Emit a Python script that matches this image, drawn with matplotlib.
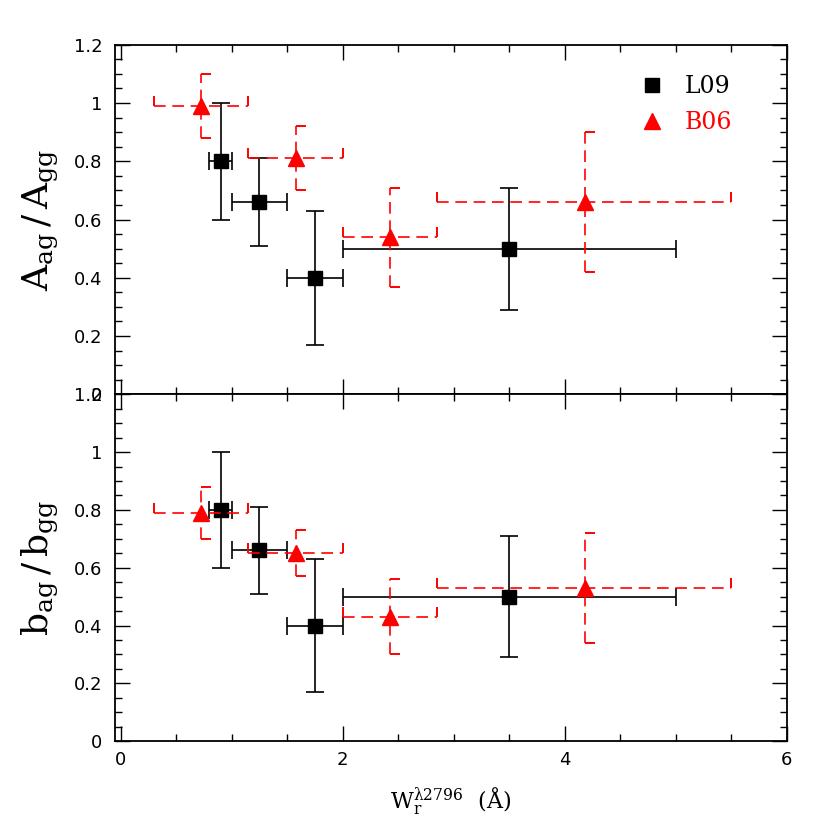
import numpy as np
import matplotlib
matplotlib.use("Agg")
import matplotlib.pyplot as plt
from matplotlib.path import Path
from matplotlib.ticker import MultipleLocator

# ---- data ----
# L09 (black squares)
l09_x = [0.9, 1.25, 1.75, 3.5]
l09_xlo = [0.8, 1.0, 1.5, 2.0]
l09_xhi = [1.0, 1.5, 2.0, 5.0]
l09_A = [0.80, 0.66, 0.40, 0.50]
l09_A_err = [0.20, 0.15, 0.23, 0.21]
l09_b = [0.80, 0.66, 0.40, 0.50]
l09_b_err = [0.20, 0.15, 0.23, 0.21]

# B06 (red triangles)
b06_x = [0.72, 1.58, 2.43, 4.18]
b06_xlo = [0.30, 1.15, 2.0, 2.85]
b06_xhi = [1.15, 2.0, 2.85, 5.50]
b06_A = [0.99, 0.81, 0.54, 0.66]
b06_A_err = [0.11, 0.11, 0.17, 0.24]
b06_b = [0.79, 0.65, 0.43, 0.53]
b06_b_err = [0.09, 0.08, 0.13, 0.19]

ylabels = [r'$\mathrm{A_{ag}\,/\,A_{gg}}$', r'$\mathrm{b_{ag}\,/\,b_{gg}}$']
xlabel = r'$\mathrm{W_r^{\lambda2796}}$  $\mathrm{(\AA)}$'
xticks = [0, 2, 4, 6]
yticks = [0, 0.2, 0.4, 0.6, 0.8, 1.0, 1.2]
ytick_labels = ['0', '0.2', '0.4', '0.6', '0.8', '1', '1.2']

plt.rcParams['mathtext.fontset'] = 'dejavuserif'
plt.rcParams['font.family'] = ['DejaVu Serif']

fig = plt.figure(figsize=(8.3, 8.3), dpi=100)
left, right, top, mid, bot = 0.1386, 0.948, 0.946, 0.525, 0.107
ax1 = fig.add_axes([left, mid, right - left, top - mid])
ax2 = fig.add_axes([left, bot, right - left, mid - bot])

dash = (0, (7, 4))
half_h = Path([(0, 0), (1, 0)])   # horizontal half cap (to the right)
half_v = Path([(0, 0), (0, 1)])   # vertical half cap (upwards)


def draw(ax, ly, lerr, by, berr):
    lx = np.array(l09_x)
    xerr_l = [lx - np.array(l09_xlo), np.array(l09_xhi) - lx]
    ax.errorbar(lx, ly, yerr=lerr, xerr=xerr_l, fmt='s', color='black',
                ms=9.5, elinewidth=1.2, capsize=6.8, capthick=1.2, zorder=3)
    bx = np.array(b06_x)
    by = np.array(by)
    berr = np.array(berr)
    xerr_b = [bx - np.array(b06_xlo), np.array(b06_xhi) - bx]
    eb = ax.errorbar(bx, by, yerr=berr, xerr=xerr_b, fmt='^', color='red',
                     ms=11, elinewidth=1.2, capsize=0, zorder=4)
    for lc in eb[2]:
        lc.set_linestyle(dash)
    # dashed-looking half caps
    ax.plot(bx, by + berr, ls='none', marker=half_h, ms=14, mec='red',
            mew=1.4, zorder=4)
    ax.plot(bx, by - berr, ls='none', marker=half_h, ms=14, mec='red',
            mew=1.4, zorder=4)
    ax.plot(b06_xlo, by, ls='none', marker=half_v, ms=14, mec='red',
            mew=1.4, zorder=4)
    ax.plot(b06_xhi, by, ls='none', marker=half_v, ms=14, mec='red',
            mew=1.4, zorder=4)


draw(ax1, l09_A, l09_A_err, b06_A, b06_A_err)
draw(ax2, l09_b, l09_b_err, b06_b, b06_b_err)

for i, ax in enumerate((ax1, ax2)):
    ax.set_xlim(-0.05, 6.0)
    ax.set_ylim(0, 1.2)
    ax.set_xticks(xticks)
    ax.xaxis.set_minor_locator(MultipleLocator(0.5))
    ax.set_yticks(yticks)
    ax.set_yticklabels(ytick_labels)
    ax.yaxis.set_minor_locator(MultipleLocator(0.05))
    ax.tick_params(which='both', direction='in', top=True, right=True,
                   width=1.0, labelsize=13)
    ax.tick_params(which='major', length=11)
    ax.tick_params(which='minor', length=5)
    ax.tick_params(axis='y', pad=9)
    ax.tick_params(axis='x', pad=7)
    for sp in ax.spines.values():
        sp.set_linewidth(1.3)
    ax.set_ylabel(ylabels[i], fontsize=26, labelpad=10)
    for lab in ax.get_yticklabels() + ax.get_xticklabels():
        lab.set_family('DejaVu Sans')

ax1.tick_params(labelbottom=False)
ax2.set_xlabel(xlabel, fontsize=16, labelpad=12)

# legend
h1 = ax1.plot([], [], 's', color='black', ms=9.5)[0]
h2 = ax1.plot([], [], '^', color='red', ms=11)[0]
leg = ax1.legend([h1, h2], ['L09', 'B06'], loc='upper left',
                 bbox_to_anchor=(0.75, 0.975), frameon=False, fontsize=17,
                 handlelength=1.0, handletextpad=0.9, labelspacing=0.55,
                 labelcolor=['black', 'red'])

fig.savefig('out.png', dpi=100)
